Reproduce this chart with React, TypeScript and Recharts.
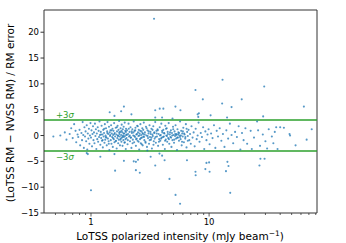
import { ScatterChart, Scatter, XAxis, YAxis, ReferenceLine } from 'recharts'

const FONT = 'DejaVu Sans, sans-serif'

const xDomain = [0.4, 82]
const yDomain = [-15, 24.3]
const xTicks = [0.5, 0.6, 0.7, 0.8, 0.9, 1, 2, 3, 4, 5, 6, 7, 8, 9, 10, 20, 30, 40, 50, 60, 70, 80]
const xLabelled = [1, 10]
const yTicks = [-15, -10, -5, 0, 5, 10, 15, 20]
const sigmaLines = [3, -3]

// [polarized intensity, normalised RM difference]
const faintSources: [number, number][] = [
  [0.48, -0.2], [0.55, 0.0], [0.6, 0.6], [0.68, 1.4], [0.62, -0.8], [0.66, 0.3], [0.7, -0.5], [0.72, 2.2],
  [0.74, 0.9], [0.75, -1.3], [0.77, 0.2], [0.78, -0.3], [0.8, 1.1], [0.81, -1.9], [0.83, 0.5], [0.84, -0.9],
  [0.85, 2.6], [0.86, 0.1], [0.87, -2.4], [0.88, 1.6], [0.89, -0.2], [0.9, 0.8], [0.91, -1.1], [0.92, 2.0],
  [0.93, -2.7], [0.94, 0.4], [0.95, -0.6], [0.96, 1.3], [0.97, -1.6], [0.98, 0.0], [0.99, 2.4],
  [1.0, -0.4], [1.01, 1.0], [1.02, -2.1], [1.03, 0.3], [1.04, 1.8], [1.05, -0.9], [1.06, 0.6], [1.07, -1.5],
  [1.08, 2.3], [1.09, -0.1], [1.1, 1.2], [1.11, -2.6], [1.12, 0.4], [1.13, -0.7], [1.14, 1.6], [1.15, -1.2],
  [1.16, 0.9], [1.17, -0.3], [1.18, 2.7], [1.19, 0.1], [1.2, -1.8],
]

const midSources: [number, number][] = [
  [1.21, 0.7], [1.22, -0.5], [1.23, 1.9], [1.24, -1.0], [1.25, 0.2], [1.26, -2.3], [1.27, 1.1], [1.28, -0.2],
  [1.29, 0.5], [1.3, -1.4], [1.31, 2.2], [1.32, -0.8], [1.33, 0.0], [1.34, 1.4], [1.35, -0.4], [1.36, -1.9],
  [1.37, 0.8], [1.38, 2.6], [1.39, -0.6], [1.4, 0.3], [1.41, -1.1], [1.42, 1.7], [1.43, -2.8], [1.44, 0.6],
  [1.45, -0.1], [1.46, 1.0], [1.47, -0.9], [1.48, 2.0], [1.49, -1.6], [1.5, 0.4], [1.51, -0.3], [1.52, 1.3],
  [1.53, -2.2], [1.54, 0.1], [1.55, 0.9], [1.56, -0.7], [1.57, 2.4], [1.58, -1.3], [1.59, 0.5], [1.6, -0.2],
  [1.62, 1.5], [1.63, -1.0], [1.64, 0.2], [1.65, -2.5], [1.66, 0.8], [1.67, -0.5], [1.68, 1.9], [1.69, 0.0],
  [1.7, -1.5], [1.71, 1.1], [1.72, -0.8], [1.73, 2.8], [1.74, 0.3], [1.75, -0.2], [1.76, -1.9], [1.77, 0.7],
  [1.78, 1.4], [1.79, -0.6], [1.8, 0.1], [1.81, -1.2], [1.82, 2.1], [1.83, -0.4], [1.84, 0.6], [1.85, -2.0],
  [1.86, 1.2], [1.87, 0.0], [1.88, -0.9], [1.89, 1.7], [1.9, -0.3], [1.91, 0.4], [1.92, -1.4], [1.93, 2.5],
  [1.94, -0.1], [1.95, 0.9], [1.96, -0.7], [1.97, -2.6], [1.98, 1.3], [1.99, 0.2],
  [2.0, -0.5], [2.02, 1.0], [2.04, -1.7], [2.06, 0.3], [2.08, 2.3], [2.1, -0.2], [2.12, 0.7], [2.14, -1.1],
  [2.16, 1.6], [2.18, -0.4], [2.2, -2.4], [2.22, 0.5], [2.24, 1.2], [2.26, -0.8], [2.28, 0.0], [2.3, 2.7],
  [2.32, -1.3], [2.34, 0.9], [2.36, -0.3], [2.38, 1.5], [2.4, -2.0], [2.42, 0.2], [2.44, -0.6], [2.46, 1.9],
  [2.48, -1.0], [2.5, 0.6], [2.52, -0.1], [2.54, 1.1], [2.56, -2.7], [2.58, 0.4], [2.6, -0.7], [2.62, 2.2],
  [2.64, -1.5], [2.66, 0.1], [2.68, 0.8], [2.7, -0.4], [2.72, 1.4], [2.74, -1.9], [2.76, 0.3], [2.78, -0.2],
  [2.8, 2.5], [2.83, -0.9], [2.86, 0.6], [2.89, -1.2], [2.92, 1.7], [2.95, 0.0], [2.98, -2.2], [3.01, 1.0],
  [3.04, -0.5], [3.07, 0.4], [3.1, -1.6], [3.13, 2.0], [3.16, -0.3], [3.19, 0.7], [3.22, -0.8], [3.25, 1.3],
  [3.28, -2.5], [3.31, 0.2], [3.34, -0.1], [3.37, 1.8], [3.4, -1.1], [3.43, 0.5], [3.46, -0.6], [3.5, 2.6],
  [3.54, -1.4], [3.58, 0.9], [3.62, -0.2], [3.66, 1.2], [3.7, -2.0], [3.74, 0.3], [3.78, -0.7], [3.82, 1.6],
  [3.86, -1.0], [3.9, 0.1], [3.94, 2.3], [3.98, -0.4],
]

const coreSources: [number, number][] = [
  [1.215, 0.2], [1.255, -0.9], [1.295, 1.3], [1.335, -0.3], [1.375, 0.5], [1.415, -1.6], [1.455, 0.1],
  [1.495, 1.0], [1.535, -0.5], [1.575, 0.3], [1.615, -1.1], [1.655, 1.6], [1.695, -0.1], [1.735, 0.6],
  [1.775, -0.8], [1.815, 0.9], [1.855, -0.2], [1.895, 0.4], [1.935, -1.3], [1.975, 0.7], [2.01, 0.1],
  [2.05, -0.9], [2.09, 1.3], [2.13, 0.0], [2.17, -0.4], [2.21, 0.8], [2.25, -1.5], [2.29, 0.6], [2.33, -0.1],
  [2.37, 1.0], [2.41, -0.7], [2.45, 0.3], [2.49, 1.8], [2.53, -1.2], [2.57, 0.0], [2.61, 0.9], [2.65, -0.5],
  [2.69, -1.7], [2.73, 0.5], [2.77, 1.1], [2.81, -0.3], [2.85, 0.2], [2.9, -1.4], [2.96, 1.4], [3.02, -0.1],
  [3.08, 0.8], [3.14, -0.9], [3.2, 0.3], [3.26, -0.4], [3.32, 1.1], [3.38, -1.8], [3.44, 0.6], [3.52, -0.3],
  [3.6, 0.4], [3.68, 1.0], [3.76, -1.2], [3.84, 0.0], [3.92, -0.6], [4.0, 0.9], [4.08, -0.3], [4.16, 0.5],
  [4.24, -1.0], [4.32, 1.3], [4.4, -0.1], [4.48, 0.3], [4.57, -0.7], [4.67, 0.6], [4.77, -0.4], [4.87, 0.0],
  [4.97, 1.2], [5.07, -0.8], [5.17, 0.3], [5.27, 0.1], [5.37, -0.4], [5.47, 0.2], [5.57, 0.5], [5.67, -0.3],
  [5.77, 0.0], [5.9, -1.2], [6.0, 0.8], [6.15, 0.4], [6.3, -0.3], [6.45, 1.3], [6.6, -1.0],
]

const brightSources: [number, number][] = [
  [4.02, 0.6], [4.06, -1.8], [4.1, 1.1], [4.14, -0.2], [4.18, 0.4], [4.22, -2.6], [4.26, 1.9], [4.3, -0.8],
  [4.34, 0.0], [4.38, 1.4], [4.42, -1.2], [4.46, 0.7], [4.5, -0.5], [4.55, 2.4], [4.6, -1.6], [4.65, 0.2],
  [4.7, -0.3], [4.75, 1.0], [4.8, -2.2], [4.85, 0.5], [4.9, -0.9], [4.95, 1.7], [5.0, 0.1], [5.05, -1.4],
  [5.1, 0.8], [5.15, -0.1], [5.2, 2.0], [5.25, -0.6], [5.3, 0.3], [5.35, -2.8], [5.4, 1.2], [5.45, -0.4],
  [5.5, 0.6], [5.56, -1.0], [5.62, 0.0], [5.68, 2.7], [5.74, -0.7], [5.8, 0.9], [5.86, -1.9], [5.92, 0.4],
  [5.98, -0.2], [6.05, 1.5], [6.12, -1.3], [6.2, 0.2], [6.28, -0.6], [6.36, 2.2], [6.44, -2.3], [6.52, 0.7],
  [6.6, -0.1], [6.7, 1.1], [6.8, -0.9], [6.9, 0.3], [7.0, -1.6],
  [7.1, 1.8], [7.25, -0.4], [7.4, 0.6], [7.55, -2.1], [7.7, 1.3], [7.85, -0.7], [8.0, 0.0], [8.15, 2.5],
  [8.3, -1.2], [8.5, 0.5], [8.7, -0.3], [8.9, 1.6], [9.1, -2.6], [9.3, 0.8], [9.5, -0.9], [9.7, 0.2],
  [9.9, 1.2], [10.1, -1.7], [10.4, 0.4], [10.7, -0.5], [11.0, 2.0], [11.3, -2.4], [11.6, 0.9], [11.9, -0.2],
  [12.3, 1.4], [12.7, -1.0], [13.1, 0.3], [13.5, -2.2], [14.0, 1.0], [14.5, -0.6], [15.0, 2.3], [15.5, 0.1],
  [16.0, -1.5], [16.6, 0.7], [17.2, -0.3], [17.8, 1.8], [18.4, -2.7], [19.0, 0.5], [19.6, -0.9], [20.3, 1.4],
  [21.0, -1.6], [22.5, 0.9], [23.0, -2.6], [24.0, -0.4], [25.5, 2.7], [26.0, 1.0], [27.0, -2.0], [28.5, 0.2],
  [30.0, -1.1], [31.0, -2.5], [32.0, 1.2], [34.0, -0.2], [35.0, -1.5], [36.0, 0.7], [37.0, 1.6], [38.0, -2.6],
  [40.0, 1.6], [43.0, 1.5], [48.0, 0.3], [48.5, 0.0], [54.0, -1.9], [67.0, -0.8], [74.0, 1.2],
]

const upperOutliers: [number, number][] = [
  [3.42, 22.6], [13.0, 10.8], [29.3, 9.5], [7.67, 8.8], [8.85, 7.0], [18.9, 7.0], [12.9, 6.2], [63.5, 5.6],
  [1.9, 5.6], [5.19, 5.6], [3.82, 5.2], [4.1, 5.2], [5.72, 4.9], [15.5, 5.5], [3.5, 4.9], [1.8, 4.7],
  [1.44, 4.5], [1.58, 3.8], [2.2, 4.1], [8.2, 4.3], [10.3, 3.9], [14.2, 3.5], [28.7, 3.7], [8.1, 3.6],
  [8.0, 4.1], [3.5, 3.5], [4.0, 3.5], [4.9, 3.3],
]

const lowerOutliers: [number, number][] = [
  [1.0, -10.6], [4.62, -8.4], [5.2, -11.5], [5.68, -13.2], [15.1, -11.1], [1.6, -6.8], [2.59, -7.2],
  [2.4, -6.7], [7.67, -7.0], [7.7, -7.7], [9.3, -6.5], [10.1, -7.0], [9.5, -5.3], [10.0, -5.2], [14.3, -5.1],
  [14.6, -5.9], [13.9, -6.9], [26.7, -5.8], [27.2, -4.5], [29.5, -4.5], [1.9, -4.9], [2.3, -5.0], [2.4, -5.1],
  [2.5, -4.7], [0.92, -3.4], [0.94, -3.6], [1.58, -3.6], [1.2, -4.1], [3.2, -4.1], [3.8, -3.5], [4.0, -3.9],
  [4.2, -4.8], [6.5, -4.8], [3.5, -5.8], [3.0, -2.9],
]

const points = [...faintSources, ...midSources, ...coreSources, ...brightSources, ...upperOutliers, ...lowerOutliers].map(
  ([x, y]) => ({ x, y }),
)

const fmtY = (v: number) => (v < 0 ? '\u2212' + Math.abs(v) : String(v))

function XTick({ x, y, payload }: any) {
  const major = xLabelled.includes(payload.value)
  return (
    <g>
      <line x1={x} x2={x} y1={y} y2={y + (major ? 3.5 : 2)} stroke="#333" strokeWidth={0.8} />
      {major && (
        <text x={x} y={y + 12} textAnchor="middle" fontSize={8.5} fontFamily={FONT} fill="#000">
          {payload.value}
        </text>
      )}
    </g>
  )
}

function SigmaLabel({ viewBox, level }: any) {
  const above = level > 0
  return (
    <text x={viewBox.x + 12} y={above ? viewBox.y - 2 : viewBox.y + 8.5} fill="#2ca02c" fontSize={8.5} fontFamily={FONT}>
      {above ? '+3' : '\u22123'}
      <tspan fontStyle="italic">σ</tspan>
    </text>
  )
}

export default function App() {
  return (
    <div style={{ position: 'absolute', left: 0, top: 0, width: 346, height: 243, background: '#fff' }}>
      <ScatterChart width={346} height={243} margin={{ top: 10, right: 29, left: 14, bottom: 0 }}>
        <XAxis
          type="number"
          dataKey="x"
          scale="log"
          domain={xDomain}
          allowDataOverflow
          ticks={xTicks}
          interval={0}
          height={30}
          tickSize={0}
          tickMargin={0}
          tickLine={false}
          tick={<XTick />}
          stroke="#333"
        />
        <YAxis
          type="number"
          dataKey="y"
          domain={yDomain}
          allowDataOverflow
          ticks={yTicks}
          interval={0}
          width={30}
          tickSize={3.5}
          tickMargin={1.5}
          tickFormatter={fmtY}
          tick={{ fontSize: 8.5, fontFamily: FONT, fill: '#000' }}
          stroke="#333"
        />
        {/* top and right frame */}
        <ReferenceLine y={yDomain[1]} stroke="#333" strokeWidth={1} />
        <ReferenceLine x={xDomain[1]} stroke="#333" strokeWidth={1} />
        {sigmaLines.map((s) => (
          <ReferenceLine key={s} y={s} stroke="#2ca02c" strokeWidth={1.5} label={<SigmaLabel level={s} />} />
        ))}
        <Scatter
          data={points}
          isAnimationActive={false}
          shape={(p: any) => <circle cx={p.cx} cy={p.cy} r={1.05} fill="#1f77b4" fillOpacity={0.75} />}
        />
        <text x={180} y={240} textAnchor="middle" fontSize={10.5} fontFamily={FONT} fill="#000">
          LoTSS polarized intensity (mJy beam<tspan dy={-4} fontSize={7.5}>{'\u22121'}</tspan>
          <tspan dy={4}>)</tspan>
        </text>
        <text
          x={10}
          y={113}
          transform="rotate(-90 10 113)"
          textAnchor="middle"
          dominantBaseline="central"
          fontSize={10.5}
          fontFamily={FONT}
          fill="#000"
        >
          (LoTSS RM {'\u2212'} NVSS RM) / RM error
        </text>
      </ScatterChart>
    </div>
  )
}
